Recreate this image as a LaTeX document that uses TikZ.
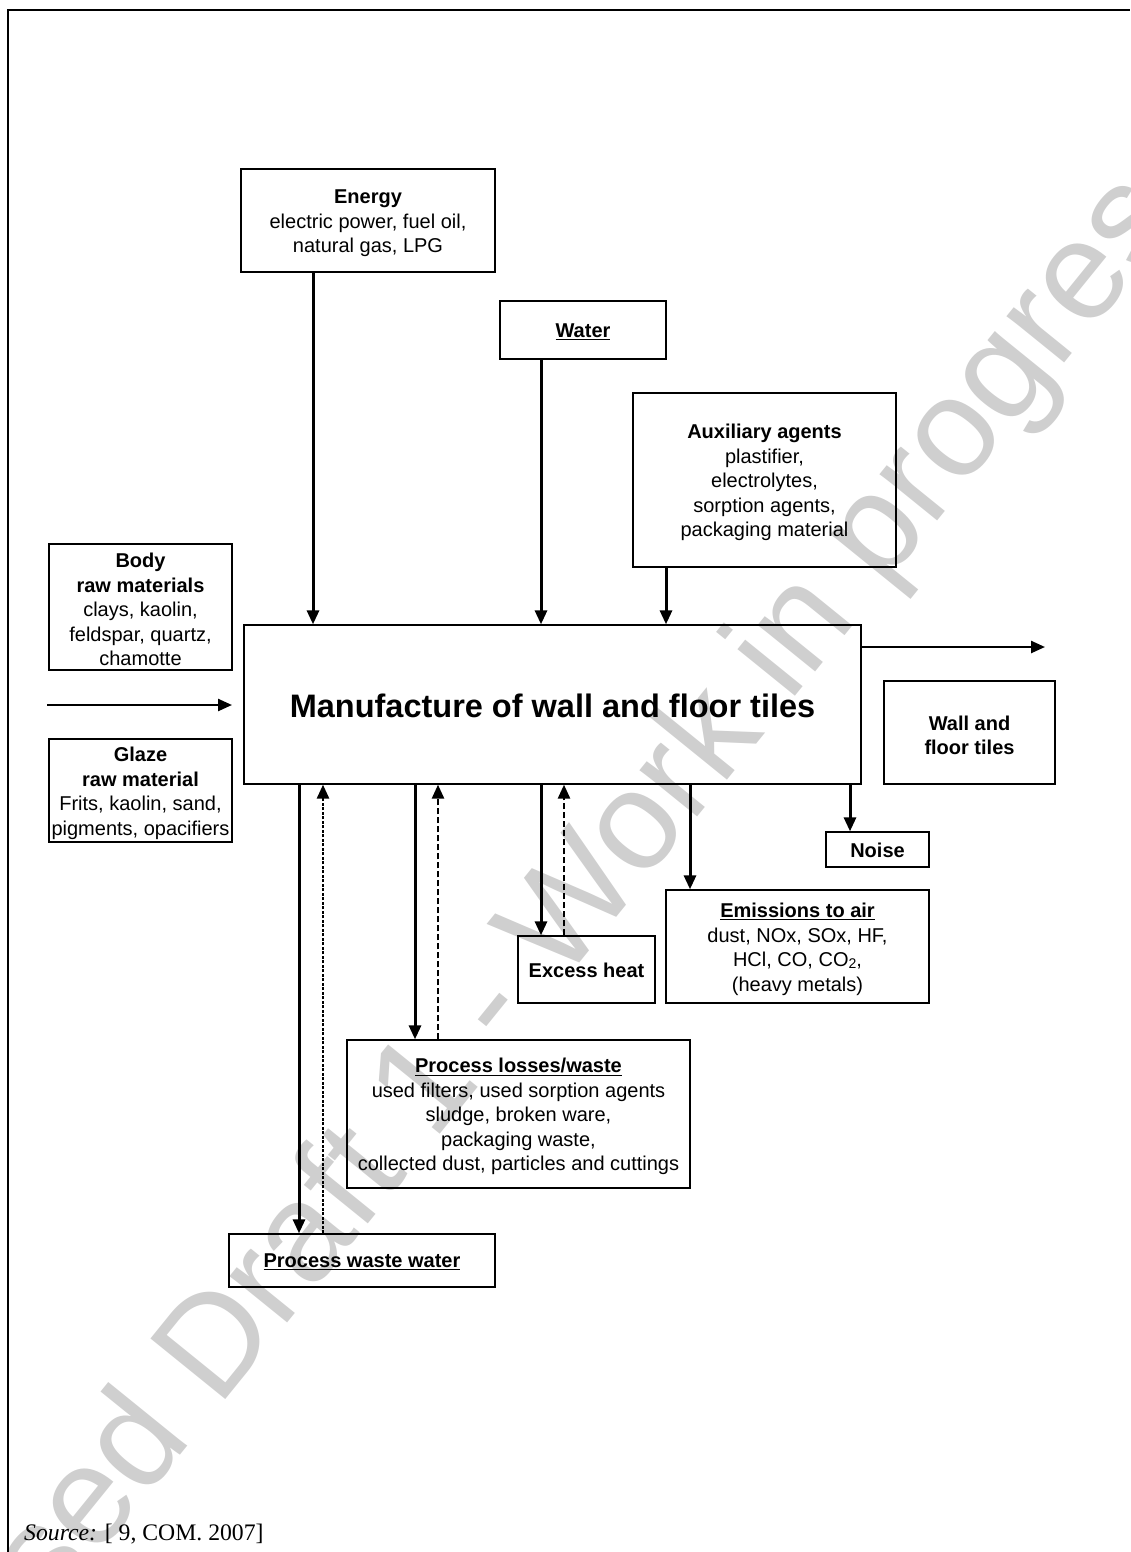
\documentclass[tikz,border=0pt]{standalone}
\usepackage{fontspec}
\setmainfont{Liberation Sans}
\newfontfamily\srcfont{Liberation Serif}
\usetikzlibrary{arrows.meta}
\newcommand{\tp}{\rule{0pt}{20pt}}
\newcommand{\ts}{\rule{0pt}{17pt}}
\tikzset{
  box/.style={draw, line width=1.3pt, inner sep=0pt, align=center,
    font=\fontsize{20}{24.5}\selectfont},
  arr/.style={line width=3pt, -{Triangle[length=14pt,width=12pt]}},
  harr/.style={line width=2.4pt, -{Triangle[length=14pt,width=12pt]}},
  dsh/.style={line width=2.6pt, -{Triangle[length=14pt,width=12pt]}, dash pattern=on 6pt off 3pt},
  dshf/.style={line width=2.6pt, -{Triangle[length=14pt,width=12pt]}, dash pattern=on 3pt off 1.5pt},
  frame/.style={line width=2pt},
  wmark/.style={text=black!19, font=\fontsize{140}{140}\selectfont, inner sep=0pt}
}
\begin{document}
\begin{tikzpicture}[x=1pt,y=-1pt]
\useasboundingbox (0,0) rectangle (1130,1552);
% watermark
\begin{scope}
\clip (0,0) rectangle (1130,1552);
\node[wmark, rotate=51] (wm) at (493,1012) {Proposed Draft 1 - Work in progress};
\end{scope}
% frame
\coordinate (fa) at (8,1552);
\coordinate (fb) at (8,10);
\coordinate (fc) at (1130,10);
\draw[frame] (fa) -- (fb) -- (fc);
% boxes
\node[box, minimum width=254pt, minimum height=103pt] (energy) at (368,220.5)
  {\tp\textbf{Energy}\\electric power, fuel oil,\\natural gas, LPG};
\node[box, minimum width=166pt, minimum height=58pt] (water) at (583,330)
  {\ts\textbf{\underline{Water}}};
\node[box, minimum width=263pt, minimum height=174pt] (aux) at (764.5,480)
  {\tp\textbf{Auxiliary agents}\\plastifier,\\electrolytes,\\sorption agents,\\packaging material};
\node[box, minimum width=183pt, minimum height=126pt] (body) at (140.5,607)
  {\tp\textbf{Body}\\\textbf{raw materials}\\clays, kaolin,\\feldspar, quartz,\\chamotte};
\node[box, minimum width=183pt, minimum height=103pt] (glaze) at (140.5,790.5)
  {\tp\textbf{Glaze}\\\textbf{raw material}\\Frits, kaolin, sand,\\pigments, opacifiers};
\node[box, minimum width=617pt, minimum height=159pt, font=\bfseries\fontsize{32.5}{32.5}\selectfont] (main) at (552.5,704.5)
  {\rule{0pt}{27pt}Manufacture of wall and floor tiles};
\node[box, minimum width=171pt, minimum height=103pt] (tiles) at (969.5,732.5)
  {\tp\textbf{Wall and}\\\textbf{floor tiles}};
\node[box, minimum width=103pt, minimum height=35pt] (noise) at (877.5,849.5)
  {\ts\textbf{Noise}};
\node[box, minimum width=263pt, minimum height=113pt] (emis) at (797.5,946.5)
  {\tp\textbf{\underline{Emissions to air}}\\dust, NOx, SOx, HF,\\HCl, CO, CO{\fontsize{14}{14}\selectfont\raisebox{-1.5pt}{2}},\\(heavy metals)};
\node[box, minimum width=137pt, minimum height=67pt] (heat) at (586.5,969.5)
  {\ts\textbf{Excess heat}};
\node[box, minimum width=343pt, minimum height=148pt] (loss) at (518.5,1114)
  {\tp\textbf{\underline{Process losses/waste}}\\used filters, used sorption agents\\sludge, broken ware,\\packaging waste,\\collected dust, particles and cuttings};
\node[box, minimum width=266pt, minimum height=53pt] (ww) at (362,1260.5)
  {\ts\textbf{\underline{Process waste water}}};
% source
\node[anchor=base west, inner sep=0pt, font=\srcfont\fontsize{23.7}{23.7}\selectfont] (src) at (24,1540)
  {\textit{Source:} [ 9, COM. 2007]};
% x positions of connectors
\coordinate (xe) at (313,0);
\coordinate (xw) at (541,0);
\coordinate (xa) at (666,0);
\coordinate (x1) at (299,0);
\coordinate (x2) at (323,0);
\coordinate (x3) at (415,0);
\coordinate (x4) at (438,0);
\coordinate (x5) at (541,0);
\coordinate (x6) at (564,0);
\coordinate (x7) at (690,0);
\coordinate (x8) at (850,0);
\coordinate (inL) at (47,705);
\coordinate (inR) at (232,705);
\coordinate (outR) at (1045,647);
\coordinate (yo) at (0,647);
% inputs
\draw[arr] (energy.south -| xe) -- (main.north -| xe);
\draw[arr] (water.south -| xw) -- (main.north -| xw);
\draw[arr] (aux.south -| xa) -- (main.north -| xa);
\draw[harr] (inL) -- (inR);
% output
\draw[harr] (main.east |- yo) -- (outR);
% below
\draw[arr] (main.south -| x1) -- (ww.north -| x1);
\draw[dshf] (ww.north -| x2) -- (main.south -| x2);
\draw[arr] (main.south -| x3) -- (loss.north -| x3);
\draw[dsh] (loss.north -| x4) -- (main.south -| x4);
\draw[arr] (main.south -| x5) -- (heat.north -| x5);
\draw[dsh] (heat.north -| x6) -- (main.south -| x6);
\draw[arr] (main.south -| x7) -- (emis.north -| x7);
\draw[arr] (main.south -| x8) -- (noise.north -| x8);
\end{tikzpicture}
\end{document}
